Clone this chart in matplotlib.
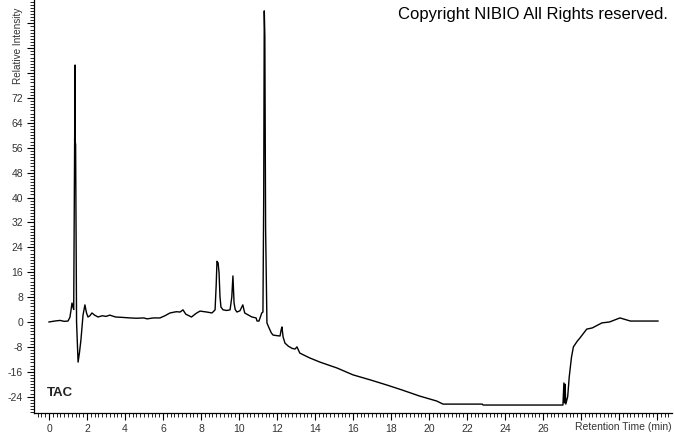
import matplotlib
matplotlib.use("Agg")
import matplotlib.pyplot as plt
from matplotlib.ticker import MultipleLocator, FixedLocator, FixedFormatter

plt.rcParams["font.family"] = ["Liberation Sans", "DejaVu Sans"]

# chromatogram trace (retention time in min, relative intensity)
rt = [0, 0.3, 0.58, 0.8, 1.0, 1.1, 1.16, 1.21, 1.26, 1.3, 1.35, 1.37, 1.38, 1.40, 1.45,
      1.53, 1.6, 1.68, 1.79, 1.89, 1.97, 2.05, 2.15, 2.26, 2.4, 2.58, 2.8, 3.0, 3.2,
      3.5, 3.8, 4.26, 4.6, 5.0, 5.16, 5.5, 5.84, 6.1, 6.37, 6.7, 6.9, 7.05, 7.2, 7.5,
      7.75, 7.95, 8.3, 8.58, 8.74, 8.8, 8.84, 8.9, 8.95, 9.0, 9.05, 9.16, 9.35, 9.53,
      9.62, 9.68, 9.74, 9.8, 9.89, 10.05, 10.2, 10.3, 10.5, 10.68, 10.9, 10.95, 11.05,
      11.2, 11.26, 11.3, 11.33, 11.36, 11.4, 11.47, 11.58, 11.7, 11.79, 12.0, 12.16,
      12.22, 12.26, 12.32, 12.42, 12.6, 12.8, 12.95, 13.05, 13.2, 13.7, 14.26, 15.16,
      16.0, 16.9, 17.8, 18.6, 19.5, 20.4, 20.74, 22.8, 22.85, 27.05, 27.1, 27.13,
      27.16, 27.2, 27.3, 27.38, 27.5, 27.6, 27.8, 27.95, 28.3, 28.6, 29.1, 29.5,
      30.05, 30.6, 31.3, 32.05]
intensity = [0, 0.3, 0.5, 0.2, 0.3, 1.5, 3.9, 6.1, 4.8, 4.0, 60, 82.6, 58, 57, 0,
             -12.9, -10, -5.8, 2.2, 5.5, 3.0, 1.6, 2.0, 2.9, 2.2, 1.6, 2.0, 1.8, 2.2,
             1.6, 1.5, 1.3, 1.2, 1.3, 1.0, 1.3, 1.3, 2.0, 2.9, 3.3, 3.2, 3.9, 2.5, 1.6,
             2.8, 3.5, 3.2, 2.9, 3.9, 12, 19.5, 19, 15.8, 8, 4.8, 3.9, 3.7, 3.9,
             8, 14.8, 6.1, 4.0, 3.2, 3.6, 5.5, 2.9, 2.2, 1.6, 1.3, 0.3, 0.3,
             2.9, 3.2, 40, 100, 92, 30, -0.3, -1.9, -3.5, -4.2, -4.4, -4.5,
             -2.5, -1.6, -4.8, -6.8, -7.8, -8.5, -8.7, -8.0, -10.0, -11.5, -12.9, -14.8,
             -17.0, -18.6, -20.3, -21.9, -23.8, -25.4, -26.4, -26.4, -26.7, -26.7, -19.6, -26.0,
             -20.0, -26.4, -24.0, -17.7, -11.3, -8.0, -6.2, -5.1, -2.3, -1.9, -0.3, 0.0,
             1.3, 0.3, 0.3, 0.3]

x_major = [0, 2, 4, 6, 8, 10, 12, 14, 16, 18, 20, 22, 24, 26, 28, 30, 32]
x_labels = ["0", "2", "4", "6", "8", "10", "12", "14", "16", "18", "20", "22", "24",
            "26", "", "", ""]
y_major = [-24, -16, -8, 0, 8, 16, 24, 32, 40, 48, 56, 64, 72, 80, 88, 96]
y_labels = ["-24", "-16", "-8", "0", "8", "16", "24", "32", "40", "48", "56", "64",
            "72", "", "", ""]

W, H = 674, 434
fig = plt.figure(figsize=(W / 100, H / 100), dpi=100)
ax = fig.add_axes([34 / W, 21 / H, 638 / W, 413 / H])

ax.plot(rt, intensity, color="black", lw=1.0)

ax.set_xlim(-0.79, 32.79)
ax.set_ylim(-29.26, 103.5)

for side in ("top", "right"):
    ax.spines[side].set_visible(False)
for side in ("left", "bottom"):
    ax.spines[side].set_linewidth(0.9)

ax.xaxis.set_major_locator(FixedLocator(x_major))
ax.xaxis.set_major_formatter(FixedFormatter(x_labels))
ax.xaxis.set_minor_locator(MultipleLocator(0.2))
ax.yaxis.set_major_locator(FixedLocator(y_major))
ax.yaxis.set_major_formatter(FixedFormatter(y_labels))
ax.yaxis.set_minor_locator(MultipleLocator(1))

ax.tick_params(which="major", length=5, width=0.8, labelsize=7.5, labelcolor="#333333", pad=3)
ax.tick_params(which="minor", length=3, width=0.6)

fig.text(668 / W, 1 - 15 / H, "Copyright NIBIO All Rights reserved.", ha="right",
         va="center", fontsize=12, color="black")
fig.text(47 / W, 1 - 393 / H, "TAC", ha="left", va="center", fontsize=9.5,
         fontweight="bold", color="#222222")
fig.text(672 / W, 1 - 427 / H, "Retention Time (min)", ha="right", va="center",
         fontsize=7.5, color="#333333")
# reference crops this label at the top edge; keep it just inside the figure
fig.text(18 / W, 1 - 84 / H, "Relative Intensity", ha="center", va="bottom",
         rotation=90, fontsize=7.2, color="#333333")

fig.savefig("out.png", dpi=100)
